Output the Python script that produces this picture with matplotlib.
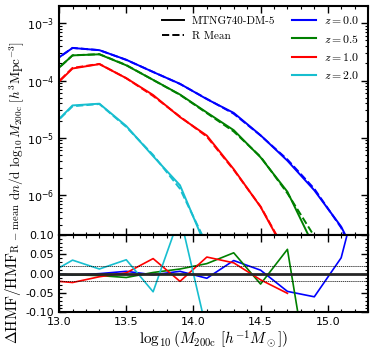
import numpy as np
import matplotlib

matplotlib.use("Agg")
import matplotlib.pyplot as plt  # noqa: E402
from matplotlib.lines import Line2D  # noqa: E402
from matplotlib.ticker import MultipleLocator, LogLocator, NullFormatter  # noqa: E402

# bin centres in log10(M200c)
logm = [12.9, 13.1, 13.3, 13.5, 13.7, 13.9, 14.1, 14.3, 14.5, 14.7, 14.9, 15.1, 15.3]

# log10 of the R-mean halo mass function, per redshift
mean_z00 = [-3.76, -3.43, -3.47, -3.64, -3.85, -4.06, -4.32, -4.58, -4.96, -5.38, -5.89, -6.57, -7.60]
mean_z05 = [-3.99, -3.56, -3.54, -3.73, -3.99, -4.25, -4.57, -4.89, -5.33, -5.97, -6.72]
mean_z10 = [-4.24, -3.78, -3.71, -3.96, -4.27, -4.63, -4.98, -5.56, -6.20, -7.04]
mean_z20 = [-4.91, -4.45, -4.41, -4.81, -5.30, -5.89, -6.87]

# (HMF - HMF_Rmean) / HMF_Rmean
res_z00 = [0.002, -0.004, 0.000, 0.006, -0.003, 0.006, -0.012, 0.034, 0.009, -0.046, -0.060, 0.041, 0.31]
res_z05 = [-0.001, -0.003, -0.005, -0.010, 0.003, 0.012, 0.026, 0.054, -0.027, 0.063, -0.36]
res_z10 = [-0.017, -0.023, -0.008, 0.002, 0.039, -0.020, 0.043, 0.028, -0.016, -0.051]
res_z20 = [-0.005, 0.035, 0.012, 0.036, -0.047, 0.15, -0.15]

redshifts = ["0.0", "0.5", "1.0", "2.0"]
colors = ["#0000ff", "#008000", "#ff0000", "#17becf"]
means = [mean_z00, mean_z05, mean_z10, mean_z20]
resids = [res_z00, res_z05, res_z10, res_z20]

plt.rcParams["xtick.direction"] = "in"
plt.rcParams["ytick.direction"] = "in"
plt.rcParams["xtick.top"] = True
plt.rcParams["ytick.right"] = True
plt.rcParams["axes.linewidth"] = 1.5

fig = plt.figure(figsize=(3.74, 3.54), dpi=100)
ax = fig.add_axes([0.158, 0.336, 0.826, 0.647])
axr = fig.add_axes([0.158, 0.118, 0.826, 0.218], sharex=ax)

for mean, res, c in zip(means, resids, colors):
    x = np.array(logm[:len(mean)])
    m = 10 ** np.array(mean)
    run = m * (1 + np.array(res))
    ax.plot(x, m, color=c, lw=1.4, ls="--")
    ax.plot(x, run, color=c, lw=1.4)
    axr.plot(x, res, color=c, lw=1.2)

ax.set_yscale("log")
ax.set_ylim(2e-7, 2e-3)
ax.set_xlim(13.0, 15.3)
ax.yaxis.set_minor_locator(LogLocator(base=10, subs=np.arange(2, 10)))
ax.yaxis.set_minor_formatter(NullFormatter())
ax.tick_params(labelbottom=False)
ax.set_ylabel(r"$\mathrm{d}n/\mathrm{d}\ \log_{10}M_{\rm 200c}\ [h^3\mathrm{Mpc}^{-3}]$",
              fontsize=9.5, math_fontfamily="cm", labelpad=1)

axr.axhline(0, color="0.15", lw=2)
for yv in (0.02, -0.02):
    axr.axhline(yv, color="k", lw=0.5, ls=(0, (2, 1)))
axr.set_ylim(-0.1, 0.1)
axr.yaxis.set_major_locator(MultipleLocator(0.05))
axr.yaxis.set_minor_locator(MultipleLocator(0.01))
axr.xaxis.set_major_locator(MultipleLocator(0.5))
axr.xaxis.set_minor_locator(MultipleLocator(0.1))
axr.yaxis.set_major_formatter(matplotlib.ticker.FormatStrFormatter("%.2f"))
axr.set_ylabel(r"$\Delta\mathrm{HMF}/\mathrm{HMF}_{\rm R\,-\,mean}$", fontsize=11,
               math_fontfamily="cm", labelpad=2)
axr.set_xlabel(r"$\log_{10}(M_{\rm 200c}\ [h^{-1}M_\odot])$", fontsize=11,
               math_fontfamily="cm", labelpad=1)

for a in (ax, axr):
    a.tick_params(which="major", length=5, width=1, labelsize=8)
    a.tick_params(which="minor", length=2.5, width=0.8)

# legends: run vs mean, and redshift colours
h1 = [Line2D([], [], color="k", lw=1.4), Line2D([], [], color="k", lw=1.4, ls="--")]
leg1 = ax.legend(h1, ["MTNG740-DM-5", "R Mean"], loc="upper left",
                 bbox_to_anchor=(0.30, 1.0), frameon=False,
                 handlelength=2.0, handletextpad=0.7, labelspacing=0.5,
                 prop={"family": "cmr10", "size": 8})
ax.add_artist(leg1)
h2 = [Line2D([], [], color=c, lw=1.5) for c in colors]
leg2 = ax.legend(h2, [rf"$z = {z}$" for z in redshifts], loc="upper right",
                 frameon=False, fontsize=8.5, handlelength=2.0,
                 handletextpad=0.7, labelspacing=0.45, borderaxespad=0.3)
for t in leg2.get_texts():
    t.set_math_fontfamily("cm")

fig.savefig("out.png", dpi=100)
